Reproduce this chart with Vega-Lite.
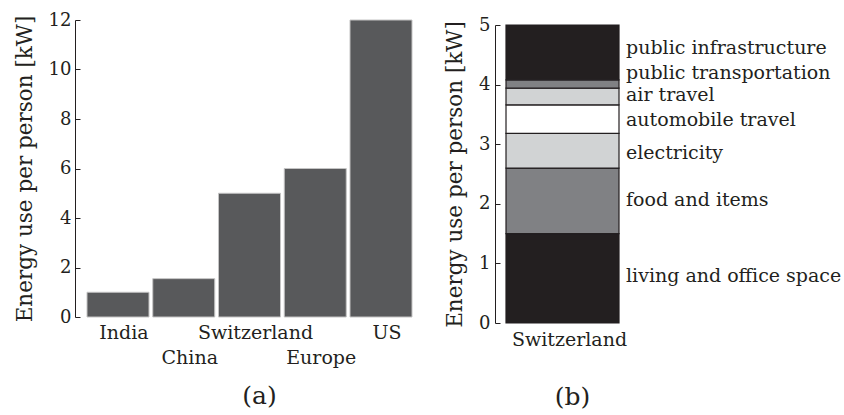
{
  "$schema": "https://vega.github.io/schema/vega-lite/v6.json",
  "background": "white",
  "padding": {"left": 14, "top": 11, "right": 0, "bottom": 0},
  "spacing": 31,
  "config": {
    "view": {"stroke": null},
    "font": "DejaVu Serif",
    "axis": {
      "labelFont": "DejaVu Serif",
      "titleFont": "DejaVu Serif",
      "labelColor": "#231f20",
      "titleColor": "#231f20",
      "domainColor": "#231f20",
      "tickColor": "#231f20",
      "titleFontWeight": "normal",
      "grid": false
    }
  },
  "hconcat": [
    {
      "width": 337,
      "height": 297,
      "data": {
        "values": [
          {"region": "India", "kw": 1.0},
          {"region": "China", "kw": 1.55},
          {"region": "Switzerland", "kw": 5.0},
          {"region": "Europe", "kw": 6.0},
          {"region": "US", "kw": 12.0}
        ]
      },
      "mark": {"type": "bar", "fill": "#58595b", "stroke": "#c4c4c4", "strokeWidth": 1},
      "encoding": {
        "x": {
          "field": "region",
          "type": "nominal",
          "sort": null,
          "scale": {"paddingInner": 0.057, "paddingOuter": 0.0913, "align": 1},
          "axis": {
            "title": "(a)",
            "titleFontSize": 25,
            "titlePadding": 16,
            "titleX": 184,
            "labelAngle": 0,
            "labelFontSize": 19,
            "labelPadding": 6,
            "labelOffset": 6,
            "labelLineHeight": 25,
            "domain": false,
            "ticks": false,
            "labelExpr": "indexof(['China','Europe'], datum.value) >= 0 ? ['', datum.value] : datum.value"
          }
        },
        "y": {
          "field": "kw",
          "type": "quantitative",
          "scale": {"domain": [0, 12]},
          "axis": {
            "title": "Energy use per person [kW]",
            "titleFontSize": 21.5,
            "values": [0, 2, 4, 6, 8, 10, 12],
            "format": "d",
            "tickSize": -5,
            "labelFontSize": 18,
            "labelPadding": 9,
            "titlePadding": 12
          }
        }
      }
    },
    {
      "spacing": 4,
      "bounds": "flush",
      "vconcat": [
        {
          "width": 1,
          "height": 1,
          "data": {"values": []},
          "mark": {"type": "point", "opacity": 0},
          "encoding": {}
        },
        {
          "width": 124,
          "height": 298,
          "data": {
            "values": [
              {"country": "Switzerland", "category": "living and office space", "kw": 1.5, "order": 1, "labelAt": 0.79},
              {"country": "Switzerland", "category": "food and items", "kw": 1.1, "order": 2, "labelAt": 2.06},
              {"country": "Switzerland", "category": "electricity", "kw": 0.58, "order": 3, "labelAt": 2.86},
              {"country": "Switzerland", "category": "automobile travel", "kw": 0.48, "order": 4, "labelAt": 3.4},
              {"country": "Switzerland", "category": "air travel", "kw": 0.28, "order": 5, "labelAt": 3.82},
              {"country": "Switzerland", "category": "public transportation", "kw": 0.14, "order": 6, "labelAt": 4.19},
              {"country": "Switzerland", "category": "public infrastructure", "kw": 0.92, "order": 7, "labelAt": 4.61}
            ]
          },
          "layer": [
            {
              "mark": {"type": "bar", "stroke": "#231f20", "strokeWidth": 1.2},
              "encoding": {
                "x": {
                  "field": "country",
                  "type": "nominal",
                  "scale": {"paddingInner": 0, "paddingOuter": 0.0487, "align": 1},
                  "axis": {
                    "title": "(b)",
                    "titleFontSize": 25,
                    "titlePadding": 35,
                    "titleX": 77,
                    "labelAngle": 0,
                    "labelFontSize": 19,
                    "labelPadding": 7,
                    "labelOffset": 7,
                    "domain": false,
                    "ticks": false
                  }
                },
                "y": {
                  "field": "kw",
                  "type": "quantitative",
                  "stack": "zero",
                  "scale": {"domain": [0, 5]},
                  "axis": {
                    "title": "Energy use per person [kW]",
                    "titleFontSize": 21.5,
                    "values": [0, 1, 2, 3, 4, 5],
                    "format": "d",
                    "tickSize": -5,
                    "labelFontSize": 18,
                    "labelPadding": 10,
                    "titlePadding": 12
                  }
                },
                "color": {
                  "field": "category",
                  "type": "nominal",
                  "scale": {
                    "domain": ["living and office space", "food and items", "electricity", "automobile travel", "air travel", "public transportation", "public infrastructure"],
                    "range": ["#231f20", "#808184", "#d1d3d4", "#ffffff", "#d1d3d4", "#808184", "#231f20"]
                  },
                  "legend": null
                },
                "order": {"field": "order", "type": "quantitative"}
              }
            },
            {
              "mark": {"type": "text", "align": "left", "baseline": "middle", "dx": 7, "fontSize": 19, "color": "#231f20", "font": "DejaVu Serif"},
              "encoding": {
                "x": {"field": "country", "type": "nominal", "bandPosition": 1},
                "y": {"field": "labelAt", "type": "quantitative"},
                "text": {"field": "category"}
              }
            }
          ]
        }
      ]
    }
  ]
}
